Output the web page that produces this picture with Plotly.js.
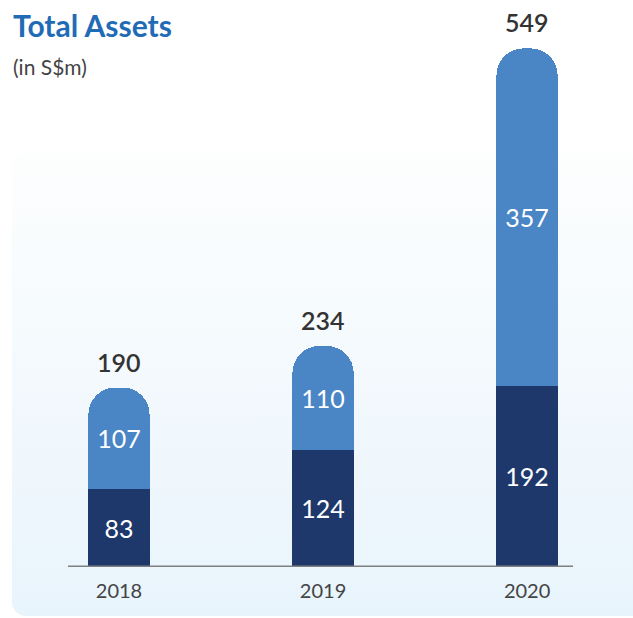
<!DOCTYPE html>
<html>
<head>
<meta charset="utf-8">
<script src="https://cdn.plot.ly/plotly-3.0.1.min.js"></script>
<style>
  html, body { margin: 0; padding: 0; background: #ffffff; }
  #wrap { position: relative; width: 633px; height: 618px; overflow: hidden; }
  #panel { position: absolute; left: 12px; top: 153px; width: 640px; height: 463px;
           border-radius: 14px;
           background: linear-gradient(to bottom, #fdfefe 0%, #f3f9fd 50%, #e8f4fc 100%); }
  #chart { position: absolute; left: 0; top: 0; width: 633px; height: 618px; }
</style>
</head>
<body>
<div id="wrap">
  <div id="panel"></div>
  <div id="chart"></div>
</div>
<script>
const years = ['2018', '2019', '2020'];
const lowerValues = [83, 124, 192];
const upperValues = [107, 110, 357];
const totals = [190, 234, 549];

const font = 'Lato, "Open Sans", sans-serif';

const ML = 68, MR = 60, MT = 20, MB = 51;
const W = 633 - ML - MR, H = 618 - MT - MB;

const traces = [
  {
    type: 'bar', x: years, y: lowerValues,
    marker: { color: '#1e386c' },
    text: lowerValues.map(String), textposition: 'inside', insidetextanchor: 'middle',
    textfont: { color: '#ffffff', size: 25, family: font },
    hoverinfo: 'skip', width: 0.3
  },
  {
    type: 'bar', x: years, y: upperValues,
    marker: { color: '#4a85c5', cornerradius: 27 },
    text: upperValues.map(String), textposition: 'inside', insidetextanchor: 'middle',
    textfont: { color: '#ffffff', size: 25, family: font },
    hoverinfo: 'skip', width: 0.3
  }
];

const annotations = years.map((yr, i) => ({
  x: i, y: totals[i], xref: 'x', yref: 'y',
  text: String(totals[i]), showarrow: false,
  yanchor: 'bottom', yshift: 9,
  font: { size: 25, color: '#333333', family: font, weight: 600 }
}));
annotations.push({
  xref: 'paper', yref: 'paper', x: (11 - ML) / W, y: (618 - MB - 25) / H,
  xanchor: 'left', yanchor: 'middle',
  text: '<b>Total Assets</b>', showarrow: false,
  font: { size: 30, color: '#1f6bb6', family: font }
});
annotations.push({
  xref: 'paper', yref: 'paper', x: (11 - ML) / W, y: (618 - MB - 66) / H,
  xanchor: 'left', yanchor: 'middle', text: '(in S$m)', showarrow: false,
  font: { size: 21, color: '#444444', family: font }
});

const layout = {
  width: 633, height: 618,
  margin: { l: ML, r: MR, t: MT, b: MB },
  paper_bgcolor: 'rgba(0,0,0,0)', plot_bgcolor: 'rgba(0,0,0,0)',
  barmode: 'stack',
  showlegend: false,
  xaxis: {
    type: 'category', range: [-0.25, 2.225],
    showgrid: false, zeroline: false, showline: false,
    ticks: '', ticklabelstandoff: 10,
    tickfont: { size: 20, color: '#444444', family: font },
    fixedrange: true
  },
  yaxis: {
    range: [0, 579], visible: false, showgrid: false, zeroline: false, fixedrange: true
  },
  shapes: [
    { type: 'line', xref: 'paper', yref: 'y', x0: 0, x1: 1, y0: 0, y1: 0,
      line: { color: '#808080', width: 3 } }
  ],
  annotations: annotations
};

Plotly.newPlot('chart', traces, layout, { displayModeBar: false, staticPlot: true });
</script>
</body>
</html>
